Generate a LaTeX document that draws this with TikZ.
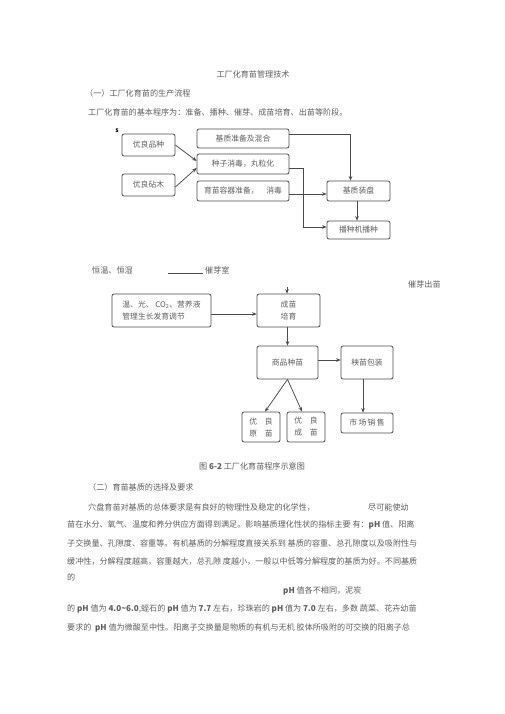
\documentclass[tikz,border=0pt]{standalone}
\usepackage{fontspec}
\setmainfont{Noto Sans CJK SC}
\usetikzlibrary{arrows.meta}
\definecolor{txt}{HTML}{5E5E5E}
\definecolor{ln}{HTML}{4A4A4A}
\tikzset{
  box/.style={draw=ln, line width=0.75pt, rounded corners=2pt, inner sep=0pt, text=txt,
    font=\fontsize{7.8}{12}\selectfont, align=center},
  arr/.style={draw=ln, line width=0.75pt, -{Stealth[length=4.5pt,width=3.6pt]}},
  tl/.style={anchor=west, text=txt, font=\fontsize{8.1}{10}\selectfont, inner sep=0pt},
  tc/.style={text=txt, font=\fontsize{8.1}{10}\selectfont, inner sep=0pt},
}
\begin{document}
\begin{tikzpicture}[x=1pt,y=-1pt]
\useasboundingbox[fill=white] (0,0) rectangle (505,714);
% header texts
\node[tc] (title) at (253,74) {工厂化育苗管理技术};
\node[tl] (h1) at (85,93) {（一）工厂化育苗的生产流程};
\node[tl] (p0) at (88,112) {工厂化育苗的基本程序为：准备、播种、催芽、成苗培育、出苗等阶段。};
\node[anchor=center, inner sep=0pt, font=\fontsize{6.5}{7}\selectfont\bfseries] (s) at (117,131) {s};
% first flow
\node[box, minimum width=53pt, minimum height=22pt] (pz) at (148.5,145) {优良品种};
\node[box, minimum width=53pt, minimum height=22pt] (zm) at (148.5,185) {优良砧木};
\node[box, minimum width=92pt, minimum height=19pt] (jz) at (243,138.5) {基质准备及混合};
\node[box, minimum width=92pt, minimum height=20pt] (zz) at (243,164) {种子消毒，丸粒化};
\node[box, minimum width=92pt, minimum height=20pt] (yq) at (243,191) {育苗容器准备，\quad 消毒};
\node[box, minimum width=63pt, minimum height=20pt] (zp) at (358.5,191) {基质装盘};
\node[box, minimum width=63pt, minimum height=18pt] (bz) at (358.5,230) {播种机播种};
\draw[arr] (pz.east) -- ([yshift=3pt]zz.west);
\draw[arr] ([yshift=-2pt]zm.east) -- ([yshift=-4pt]zz.west);
\draw[arr] ([yshift=4pt]jz.east) -| ([xshift=-8pt]zp.north);
\draw[arr] ([yshift=-4pt]zz.east) -- ++(14,0) |- ([yshift=3pt]bz.west);
\draw[arr] ([yshift=-3pt]yq.east) -- ([yshift=-3pt]zp.west);
\draw[arr] ([xshift=-1.5pt]zp.south) -- ([xshift=-1.5pt]bz.north);
% middle texts
\node[tl] (hw) at (92,270) {恒温、恒湿};
\coordinate (u1) at (168,273);
\coordinate (u2) at (203,273);
\draw[ln, line width=0.5pt] (u1) -- (u2);
\node[tl] (cys) at (205,270) {催芽室};
\node[tl] (cycm) at (408,284) {催芽出苗};
% second flow
\node[box, minimum width=99pt, minimum height=33pt, align=left] (hj) at (161.5,310.5) {温、光、 CO\textsubscript{2}、营养液\\管理生长发育调节};
\node[box, minimum width=63pt, minimum height=33pt] (cm) at (288.5,310.5) {成苗\\培育};
\node[box, minimum width=61pt, minimum height=33pt] (sp) at (287.5,362.5) {商品种苗};
\node[box, minimum width=52pt, minimum height=33pt] (bzz) at (367,362.5) {秧苗包装};
\node[box, minimum width=38pt, minimum height=30pt] (yy) at (261,427) {优\quad 良\\原\quad 苗};
\node[box, minimum width=38pt, minimum height=30pt] (yc) at (306,427) {优\quad 良\\成\quad 苗};
\node[box, minimum width=52pt, minimum height=20pt] (sc) at (367,423) {市\,场\,销\,售};
\coordinate (top) at (287,287);
\draw[arr] (top) -- (top |- cm.north);
\draw[arr] ([yshift=-3.5pt]hj.east) -- ([yshift=-3.5pt]cm.west);
\draw[arr] ([xshift=-1pt]cm.south) -- ([xshift=-1pt]cm.south |- sp.north);
\draw[arr] ([yshift=2.5pt]sp.east) -- ([yshift=2.5pt]bzz.west);
\draw[arr] (sp.south) -- ([xshift=4pt]yy.north);
\draw[arr] (sp.south) -- ([xshift=-4pt]yc.north);
\draw[arr] ([xshift=-4pt]bzz.south) -- ([xshift=-4pt]sc.north);
% caption and paragraph
\node[tc] (cap) at (252,466) {图 \textbf{6-2} 工厂化育苗程序示意图};
\node[tl] (h2) at (88,487) {（二）育苗基质的选择及要求};
\node[tl] (l1) at (88,507) {穴盘育苗对基质的总体要求是有良好的物理性及稳定的化学性，};
\node[tl] (l1b) at (368,507) {尽可能使幼};
\node[tl] (l2) at (67,525) {苗在水分、氧气、温度和养分供应方面得到满足。影响基质理化性状的指标主要 有：\textbf{pH} 值、阳离};
\node[tl] (l3) at (67,543) {子交换量、孔隙度、容重等。有机基质的分解程度直接关系到 基质的容重、总孔隙度以及吸附性与};
\node[tl] (l4) at (67,561) {缓冲性，分解程度越高，容重越大，总孔隙 度越小，一般以中低等分解程度的基质为好。不同基质};
\node[tl] (l5) at (67,577) {的};
\node[tl] (l5b) at (283,591) {\textbf{pH} 值各不相同，泥炭};
\node[tl] (l6) at (67,609) {的 \textbf{pH} 值为 \textbf{4.0\textasciitilde 6.0},蛭石的 \textbf{pH} 值为 \textbf{7.7} 左右，珍珠岩的 \textbf{pH} 值为 \textbf{7.0} 左右，多数 蔬菜、花卉幼苗};
\node[tl] (l7) at (67,628) {要求的\ \ \textbf{pH} 值为微酸至中性。阳离子交换量是物质的有机与无机 胶体所吸附的可交换的阳离子总};
\end{tikzpicture}
\end{document}
